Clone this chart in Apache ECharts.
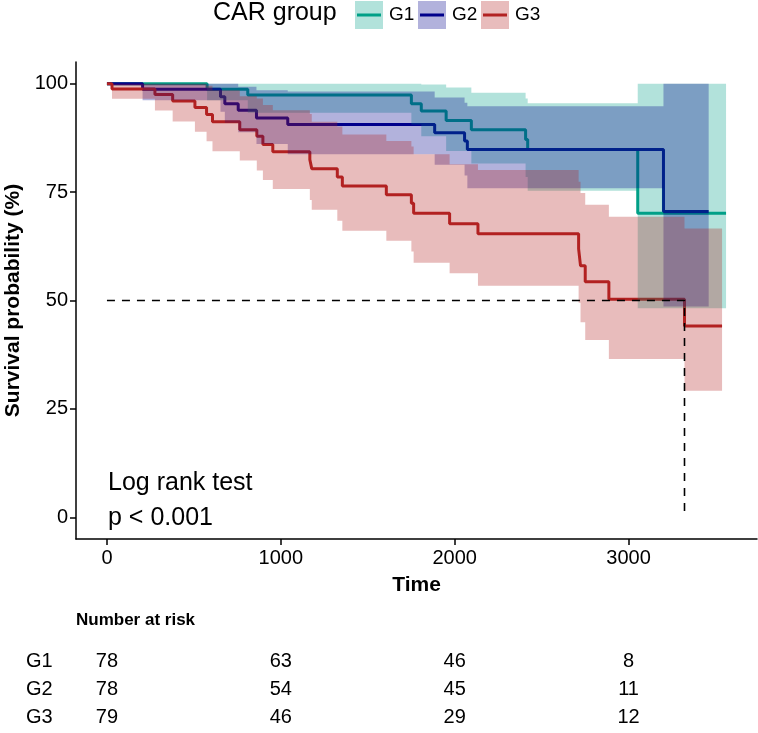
<!DOCTYPE html>
<html><head><meta charset="utf-8">
<script src="https://cdn.jsdelivr.net/npm/echarts@6/dist/echarts.min.js"></script>
<style>html,body{margin:0;padding:0;background:#fff}#c{width:758px;height:733px}</style>
</head><body><div id="c"></div>
<script>
// ---- data ----
const groupNames = ['G1', 'G2', 'G3'];
const xTicks = [0, 1000, 2000, 3000];
const yTicks = [0, 25, 50, 75, 100];

const timesG1 = [0, 576, 810, 1751, 1808, 1951, 2096, 2408, 2420, 3053];
const survG1  = [100, 98.7, 97.4, 95.4, 93.7, 91.5, 89.4, 87.1, 84.8, 70.1];
const lowerG1 = [100, 96.2, 93.3, 90.6, 87.9, 84.5, 81.6, 78.5, 75.3, 48.2];
const upperG1 = [100, 100, 100, 100, 99.8, 99.1, 97.9, 96.6, 95.5, 100];
const endG1 = 3561;

const timesG2 = [0, 205, 653, 678, 755, 860, 1040, 1885, 2057, 2073, 3201];
const survG2  = [100, 98.7, 97.0, 95.4, 93.9, 92.1, 90.6, 88.7, 86.8, 84.8, 70.5];
const lowerG2 = [100, 96.2, 93.5, 91.0, 88.8, 86.1, 83.7, 81.3, 78.8, 75.9, 48.6];
const upperG2 = [100, 100, 100, 100, 99.3, 98.5, 98.2, 96.8, 95.6, 94.8, 100];
const endG2 = 3461;

const timesG3 = [0, 29, 276, 378, 506, 573, 607, 764, 862, 897, 954, 1167, 1178, 1325, 1354, 1607, 1751, 1764, 1971, 2134, 2713, 2724, 2751, 2887, 3322];
const survG3  = [100, 98.8, 97.5, 96.0, 94.5, 92.9, 91.2, 89.4, 87.9, 86.0, 84.3, 82.5, 80.4, 78.5, 76.4, 74.4, 72.4, 70.1, 67.7, 65.4, 61.9, 58.0, 54.3, 50.3, 44.1];
const lowerG3 = [100, 96.5, 93.8, 91.3, 88.9, 86.7, 84.4, 82.3, 80.0, 77.8, 75.7, 73.2, 70.9, 68.4, 66.1, 63.8, 61.3, 58.7, 56.3, 53.4, 49.5, 45.0, 40.9, 36.5, 29.2];
const upperG3 = [100, 100, 100, 100, 100, 99.5, 98.5, 97.1, 96.6, 95.1, 93.9, 93.0, 91.2, 90.1, 88.3, 86.8, 85.5, 83.7, 81.4, 80.1, 77.4, 74.8, 72.1, 69.3, 66.6];
const endG3 = 3538;

const medianTime = 3322;
const medianSurv = 50;

const riskTimes = [0, 1000, 2000, 3000];
const riskG1 = [78, 63, 46, 8];
const riskG2 = [78, 54, 45, 11];
const riskG3 = [79, 46, 29, 12];

const legendTitle = 'CAR group';
const testLabel = 'Log rank test';
const pLabel = 'p < 0.001';

// ---- styling ----
const FONT = '"Liberation Sans", Arial, Helvetica, sans-serif';
const lineColor = ['#00A087', '#00008B', '#B22222'];
const fillColor = ['rgba(0,160,135,0.3)', 'rgba(0,0,139,0.3)', 'rgba(178,34,34,0.3)'];

const groups = [
  {t: timesG1, s: survG1, lo: lowerG1, up: upperG1, end: endG1, risk: riskG1},
  {t: timesG2, s: survG2, lo: lowerG2, up: upperG2, end: endG2, risk: riskG2},
  {t: timesG3, s: survG3, lo: lowerG3, up: upperG3, end: endG3, risk: riskG3}
];

function stepData(g) {
  const d = g.t.map((t, i) => [t, g.s[i]]);
  d.push([g.end, g.s[g.s.length - 1]]);
  return d;
}
function ribbonPoly(g) {
  const up = [], lo = [];
  const n = g.t.length;
  for (let i = 0; i < n; i++) {
    const t0 = g.t[i], t1 = i + 1 < n ? g.t[i + 1] : g.end;
    up.push([t0, g.up[i]], [t1, g.up[i]]);
    lo.push([t0, g.lo[i]], [t1, g.lo[i]]);
  }
  return up.concat(lo.reverse());
}

const series = [];
groups.forEach((g, k) => {
  series.push({
    type: 'line', name: groupNames[k], xAxisIndex: 0, yAxisIndex: 0,
    data: stepData(g), step: 'end', showSymbol: false, symbol: 'none',
    lineStyle: {color: lineColor[k], width: 3}, itemStyle: {color: lineColor[k]},
    z: 2, silent: true, animation: false
  });
});
groups.forEach((g, k) => {
  const poly = ribbonPoly(g);
  series.push({
    type: 'custom', xAxisIndex: 0, yAxisIndex: 0, data: [[0, 100]], z: 3, silent: true,
    animation: false,
    renderItem: (params, api) => ({
      type: 'polygon',
      shape: {points: poly.map(p => api.coord(p))},
      style: {fill: fillColor[k]}
    })
  });
});
series.push({
  type: 'line', xAxisIndex: 0, yAxisIndex: 0,
  data: [[0, medianSurv], [medianTime, medianSurv], [medianTime, 0]],
  showSymbol: false, symbol: 'none',
  lineStyle: {color: '#000', width: 1.6, type: [8, 7]}, z: 4, silent: true, animation: false
});
// risk table numbers, placed through the table grid's axes
const riskData = [];
groups.forEach((g, k) => riskTimes.forEach((t, i) => riskData.push([t, k, g.risk[i]])));
series.push({
  type: 'custom', xAxisIndex: 1, yAxisIndex: 1, data: riskData, silent: true, animation: false,
  renderItem: (params, api) => {
    const p = api.coord([api.value(0), api.value(1)]);
    return {type: 'text', x: p[0], y: p[1],
      style: {text: String(api.value(2)), fill: '#000', font: '20px ' + FONT,
        textAlign: 'center', textVerticalAlign: 'middle'}};
  }
});

const graphics = [
  {type: 'text', left: 213, top: 1, style: {text: legendTitle, font: '25px ' + FONT, fill: '#000'}}
];
const keyX = [355, 418, 481];
groupNames.forEach((nm, k) => {
  graphics.push({type: 'rect', shape: {x: keyX[k], y: 1, width: 28, height: 28}, style: {fill: fillColor[k]}});
  graphics.push({type: 'line', shape: {x1: keyX[k] + 2, y1: 15, x2: keyX[k] + 26, y2: 15}, style: {stroke: lineColor[k], lineWidth: 3}});
  graphics.push({type: 'text', x: keyX[k] + 34, y: 15, style: {text: nm, font: '19px ' + FONT, fill: '#000', textVerticalAlign: 'middle'}});
});
graphics.push({type: 'text', x: 108, y: 483, style: {text: testLabel, font: '25px ' + FONT, fill: '#000', textVerticalAlign: 'middle'}});
graphics.push({type: 'text', x: 108, y: 518, style: {text: pLabel, font: '25px ' + FONT, fill: '#000', textVerticalAlign: 'middle'}});
graphics.push({type: 'text', x: 76, y: 620, style: {text: 'Number at risk', font: 'bold 17px ' + FONT, fill: '#000', textVerticalAlign: 'middle'}});

const axisCommon = {
  axisLine: {show: true, onZero: false, lineStyle: {color: '#000', width: 1.5}},
  splitLine: {show: false}
};

const chart = echarts.init(document.getElementById('c'), null, {renderer: 'canvas'});
chart.setOption({
  animation: false,
  backgroundColor: '#fff',
  grid: [
    {left: 76, right: 1, top: 62, bottom: 194, containLabel: false, outerBoundsMode: 'none'},
    {left: 76, right: 1, top: 647, height: 84, containLabel: false, outerBoundsMode: 'none'}
  ],
  xAxis: [
    Object.assign({}, axisCommon, {
      type: 'value', gridIndex: 0, min: -178, max: 3739,
      axisTick: {show: true, customValues: xTicks, length: 6, lineStyle: {color: '#000', width: 1.5}},
      axisLabel: {customValues: xTicks, formatter: v => String(v), color: '#000', fontSize: 20, fontFamily: FONT, margin: 9},
      name: 'Time', nameLocation: 'middle', nameGap: 36,
      nameTextStyle: {fontWeight: 'bold', fontSize: 21, color: '#000', fontFamily: FONT}
    }),
    {type: 'value', gridIndex: 1, min: -178, max: 3739, show: false}
  ],
  yAxis: [
    Object.assign({}, axisCommon, {
      type: 'value', gridIndex: 0, min: -5, max: 105,
      axisTick: {show: true, customValues: yTicks, length: 6, lineStyle: {color: '#000', width: 1.5}},
      axisLabel: {customValues: yTicks, formatter: v => String(v), color: '#000', fontSize: 20, fontFamily: FONT, margin: 8},
      name: 'Survival probability (%)', nameLocation: 'middle', nameGap: 52, nameRotate: 90,
      nameTextStyle: {fontWeight: 'bold', fontSize: 21, color: '#000', fontFamily: FONT}
    }),
    {
      type: 'category', gridIndex: 1, data: groupNames, inverse: true,
      axisLine: {show: false}, axisTick: {show: false}, splitLine: {show: false},
      axisLabel: {color: '#000', fontSize: 20, fontFamily: FONT, align: 'left', margin: 50}
    }
  ],
  graphic: graphics,
  series: series
});
</script>
</body></html>
